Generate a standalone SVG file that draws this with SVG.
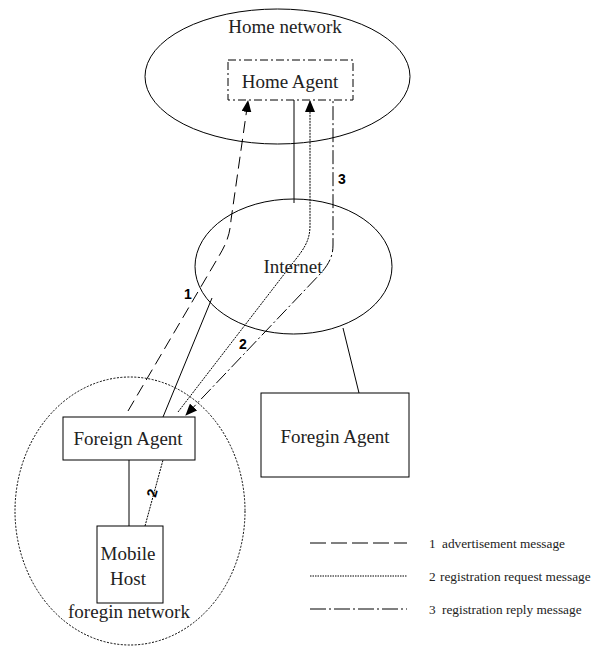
<svg xmlns="http://www.w3.org/2000/svg" width="601" height="650" viewBox="0 0 601 650">
<style>
.t{font-family:"Liberation Serif","Times New Roman",serif;font-size:19px;fill:#222;text-anchor:middle}
.lg{font-family:"Liberation Serif","Times New Roman",serif;font-size:13.3px;fill:#222}
.n{font-family:"Liberation Sans",Arial,sans-serif;font-size:14px;font-weight:bold;fill:#000;text-anchor:middle}
.s{fill:none;stroke:#000;stroke-width:1}
.dash{fill:none;stroke:#000;stroke-width:1;stroke-dasharray:12,6}
.dot{fill:none;stroke:#000;stroke-width:1;stroke-dasharray:2,1}
.dd{fill:none;stroke:#000;stroke-width:1;stroke-dasharray:14,3,2,3}
</style>
<defs>
<marker id="ah" markerWidth="12" markerHeight="10" refX="11" refY="5" orient="auto-start-reverse" markerUnits="userSpaceOnUse">
<path d="M0,0 L12,5 L0,10 Z" fill="#000"/>
</marker>
</defs>
<g id="home-network">
<ellipse class="s" cx="277.5" cy="76.5" rx="132.5" ry="67.5"/>
<text class="t" x="285" y="33">Home network</text>
</g>
<g id="home-agent">
<rect x="228" y="60" width="125" height="40" fill="none" stroke="#000" stroke-dasharray="8,3,2,3"/>
<text class="t" x="290" y="88">Home Agent</text>
</g>
<g id="internet">
<ellipse class="s" cx="293.5" cy="266.5" rx="98.5" ry="67.5"/>
<text class="t" x="293" y="273" fill="#444">Internet</text>
</g>
<g id="foreign-network">
<ellipse cx="130" cy="511" rx="115" ry="134" fill="none" stroke="#000" stroke-dasharray="2,1.5"/>
<text class="t" x="129" y="618">foregin network</text>
</g>
<g id="foreign-agent">
<rect class="s" x="63" y="417" width="132" height="43" fill="#fff"/>
<text class="t" x="128" y="445">Foreign Agent</text>
</g>
<g id="mobile-host">
<rect class="s" x="97" y="526" width="66" height="77" fill="#fff"/>
<text class="t" x="128" y="560">Mobile</text>
<text class="t" x="128" y="585">Host</text>
</g>
<g id="foregin-agent-2">
<rect class="s" x="261" y="393" width="148" height="84"/>
<text class="t" x="335" y="443">Foregin Agent</text>
</g>
<g id="connectors">
<line class="s" x1="294" y1="100" x2="294" y2="203"/>
<line class="s" x1="212" y1="298" x2="163" y2="417"/>
<line class="s" x1="343" y1="328" x2="359" y2="393"/>
<line class="s" x1="129" y1="460" x2="129" y2="526"/>
<path class="dash" d="M128,411 L219,256 C228,241 230,232 231,220 L248,101" marker-end="url(#ah)"/>
<path class="dot" d="M178,412 L292,264 C305,248 310,240 310,225 L310,101" marker-end="url(#ah)"/>
<path class="dd" d="M186,415 L322,272 C330,262 333,255 333,245 L333,100" marker-start="url(#ah)"/>
<path class="dot" d="M145,526 L163,460"/>
<text class="n" x="188" y="299">1</text>
<text class="n" x="243" y="349">2</text>
<text class="n" x="342" y="184">3</text>
<text class="n" x="0" y="0" transform="translate(152,493) rotate(-75)" dy="5">2</text>
</g>
<g id="legend">
<line class="s" x1="310" y1="543" x2="407" y2="543" stroke-dasharray="16,5"/>
<text class="lg" x="429" y="548">1</text>
<text class="lg" x="442" y="548">advertisement message</text>
<line class="s" x1="310" y1="576" x2="407" y2="576" stroke-dasharray="1.5,1"/>
<text class="lg" x="429" y="581">2</text>
<text class="lg" x="440" y="581">registration request message</text>
<line class="s" x1="310" y1="609" x2="407" y2="609" stroke-dasharray="16,3,2,3"/>
<text class="lg" x="429" y="614">3</text>
<text class="lg" x="442" y="614">registration reply message</text>
</g>
</svg>
